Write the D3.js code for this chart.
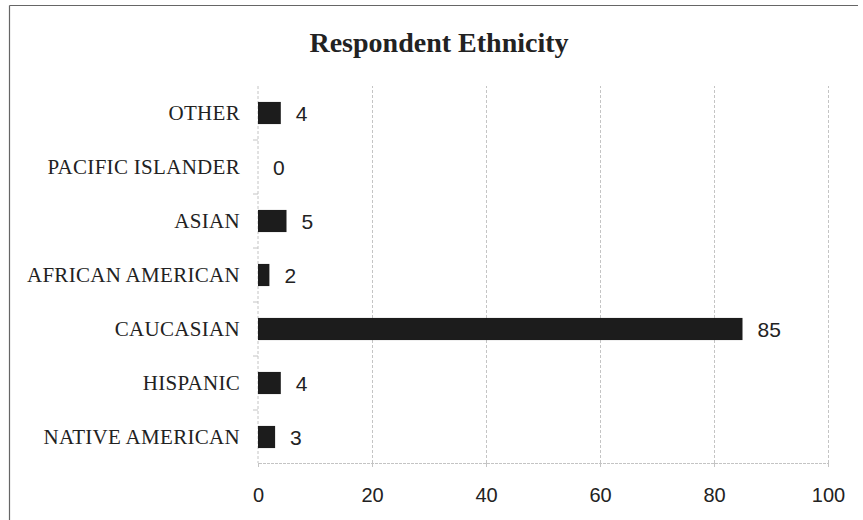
<!DOCTYPE html>
<html>
<head>
<meta charset="utf-8">
<script src="https://cdn.jsdelivr.net/npm/d3@7"></script>
<style>
  html, body { margin: 0; padding: 0; background: #fff; }
  svg { display: block; }
</style>
</head>
<body>
<svg id="chart" width="863" height="520"></svg>
<script>
const title = "Respondent Ethnicity";
const categories = ["OTHER", "PACIFIC ISLANDER", "ASIAN", "AFRICAN AMERICAN", "CAUCASIAN", "HISPANIC", "NATIVE AMERICAN"];
const values = [4, 0, 5, 2, 85, 4, 3];
const xTicks = [0, 20, 40, 60, 80, 100];

const svg = d3.select("#chart");
const W = 863, H = 520;

// frame (top and left edges visible)
svg.append("line").attr("x1", 9.5).attr("x2", 858).attr("y1", 5.5).attr("y2", 5.5)
  .attr("stroke", "#666").attr("stroke-width", 1.2);
svg.append("line").attr("x1", 9.5).attr("x2", 9.5).attr("y1", 5.5).attr("y2", H)
  .attr("stroke", "#666").attr("stroke-width", 1.2);

const x = d3.scaleLinear().domain([0, 100]).range([258, 828]);
const y = d3.scaleBand().domain(categories).range([86, 464]).paddingInner(0.59).paddingOuter(0.295);
const plotTop = 86, plotBottom = 463;

// gridlines
const grid = svg.append("g").attr("transform", `translate(0,${plotBottom})`)
  .call(d3.axisBottom(x).tickValues(xTicks.slice(1)).tickSize(-(plotBottom - plotTop)).tickFormat(""));
grid.select(".domain").remove();
grid.selectAll(".tick line").attr("stroke", "#c4c4c4").attr("stroke-dasharray", "3,2");

// left axis line (value 0)
svg.append("line").attr("x1", x(0)).attr("x2", x(0)).attr("y1", plotTop).attr("y2", plotBottom)
  .attr("stroke", "#c4c4c4").attr("stroke-dasharray", "3,2");

// category separator ticks
const step = y.step();
categories.slice(1).forEach((c, i) => {
  const yy = y(c) - (step - y.bandwidth()) / 2;
  svg.append("line").attr("x1", x(0) - 5).attr("x2", x(0)).attr("y1", yy).attr("y2", yy)
    .attr("stroke", "#c4c4c4");
});

// bottom axis
const xAxis = svg.append("g").attr("transform", `translate(0,${plotBottom})`)
  .call(d3.axisBottom(x).tickValues(xTicks).tickSize(4).tickPadding(21).tickFormat(d3.format("d")));
xAxis.select(".domain").attr("stroke", "#c4c4c4").attr("stroke-dasharray", "3,1");
xAxis.selectAll(".tick line").attr("stroke", "#c4c4c4");
xAxis.selectAll(".tick text")
  .attr("font-family", "'Liberation Sans', Arial, sans-serif")
  .attr("font-size", 20).attr("fill", "#222");

// bars
svg.append("g").selectAll("rect").data(categories).join("rect")
  .attr("x", x(0))
  .attr("y", d => y(d))
  .attr("width", (d, i) => x(values[i]) - x(0))
  .attr("height", y.bandwidth())
  .attr("fill", "#1c1c1c");

// data labels
svg.append("g").selectAll("text").data(categories).join("text")
  .attr("x", (d, i) => x(values[i]) + 15)
  .attr("y", d => y(d) + y.bandwidth() / 2)
  .attr("dy", "0.36em")
  .attr("font-family", "'Liberation Sans', Arial, sans-serif")
  .attr("font-size", 21).attr("fill", "#222")
  .text((d, i) => values[i]);

// category labels
svg.append("g").selectAll("text").data(categories).join("text")
  .attr("x", 240)
  .attr("y", d => y(d) + y.bandwidth() / 2)
  .attr("dy", "0.34em")
  .attr("text-anchor", "end")
  .attr("font-family", "'Liberation Serif', 'Times New Roman', serif")
  .attr("font-size", 21).attr("letter-spacing", 0.3).attr("fill", "#222")
  .text(d => d);

// title
svg.append("text").attr("x", 439).attr("y", 52)
  .attr("text-anchor", "middle")
  .attr("font-family", "'Liberation Serif', 'Times New Roman', serif")
  .attr("font-weight", "bold").attr("font-size", 28).attr("fill", "#222")
  .text(title);
</script>
</body>
</html>
